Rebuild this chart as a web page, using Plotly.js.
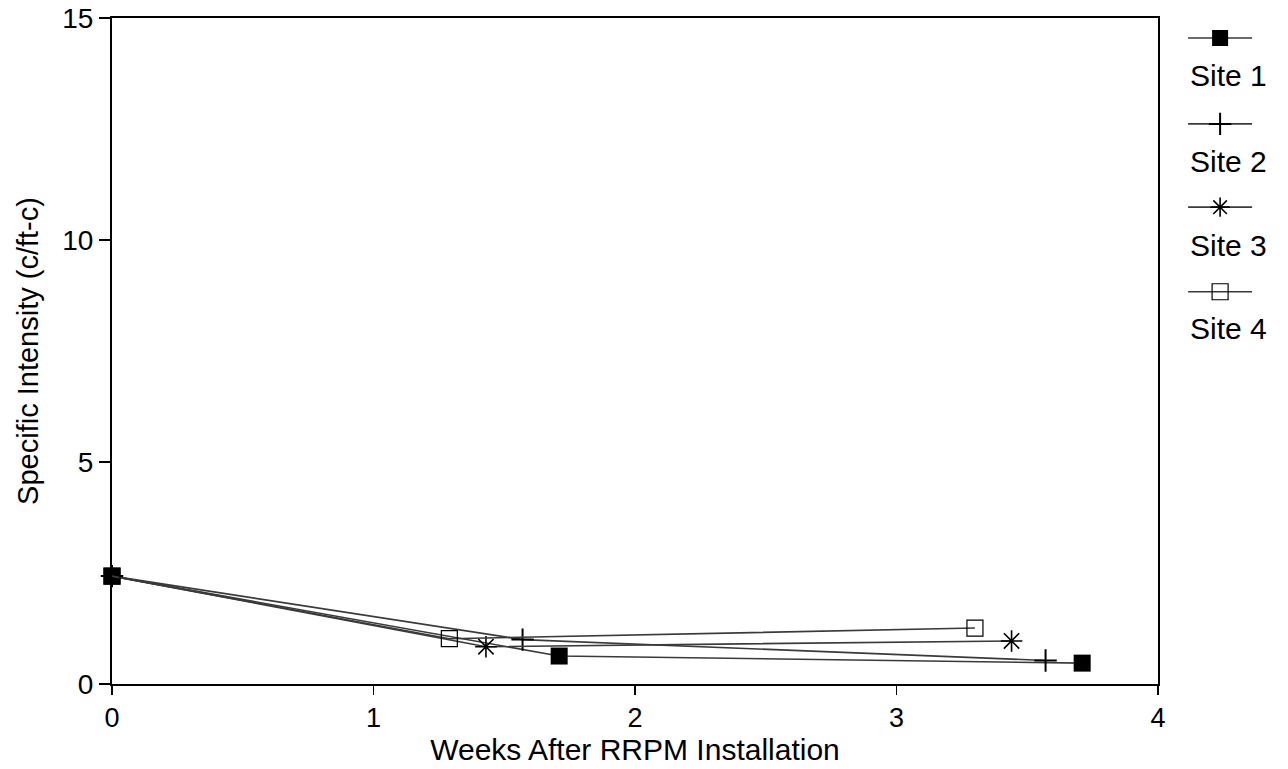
<!DOCTYPE html>
<html>
<head>
<meta charset="utf-8">
<script src="https://cdn.plot.ly/plotly-3.0.1.min.js"></script>
<style>html,body{margin:0;padding:0;background:#fff;}#chart{width:1288px;height:769px;}</style>
</head>
<body>
<div id="chart"></div>
<script>
// Data
const siteNames = ["Site 1", "Site 2", "Site 3", "Site 4"];
const site1Weeks = [0, 1.71, 3.71];
const site1Intensity = [2.43, 0.63, 0.47];
const site2Weeks = [0, 1.57, 3.57];
const site2Intensity = [2.43, 1.0, 0.53];
const site3Weeks = [0, 1.43, 3.44];
const site3Intensity = [2.43, 0.84, 0.97];
const site4Weeks = [0, 1.29, 3.30];
const site4Intensity = [2.43, 1.02, 1.26];
const xTickVals = [0, 1, 2, 3, 4];
const yTickVals = [0, 5, 10, 15];

const FONT = "Liberation Sans, Arial, Helvetica, sans-serif";
const lineColor = "#3a3a3a";

const markers = [
  {symbol: "square", size: 17, color: "#000", line: {width: 0}},
  {symbol: "cross-thin-open", size: 16, color: "#000", line: {width: 2, color: "#000"}},
  {symbol: "asterisk-open", size: 18, color: "#000", line: {width: 1.6, color: "#000"}},
  {symbol: "square-open", size: 16, color: "#000", line: {width: 1.2, color: "#000"}}
];
const xs = [site1Weeks, site2Weeks, site3Weeks, site4Weeks];
const ys = [site1Intensity, site2Intensity, site3Intensity, site4Intensity];
const legendIds = ["legend", "legend2", "legend3", "legend4"];

const traces = siteNames.map((n, i) => ({
  type: "scatter",
  mode: "lines+markers",
  x: xs[i],
  y: ys[i],
  name: " ",
  legend: legendIds[i],
  cliponaxis: false,
  line: {color: lineColor, width: 1.6},
  marker: markers[i],
  hovertemplate: n + ": %{x}, %{y}<extra></extra>"
}));

// legend symbol / label positions (paper coords)
const symY = [0.970, 0.841, 0.716, 0.589];
const txtY = [0.914, 0.785, 0.659, 0.534];

const layout = {
  width: 1288, height: 769,
  margin: {l: 112, r: 130, t: 18, b: 85},
  paper_bgcolor: "#fff", plot_bgcolor: "#fff",
  font: {family: FONT, color: "#000", size: 24},
  showlegend: true,
  xaxis: {
    range: [0, 4], tickvals: xTickVals, ticks: "outside", ticklen: 9, tickwidth: 1.5, tickcolor: "#000",
    showgrid: false, zeroline: false, showline: true, linecolor: "#000", linewidth: 2, mirror: true,
    tickfont: {size: 27, family: FONT, color: "#000"},
    title: {text: "Weeks After RRPM Installation", font: {size: 30, family: FONT, color: "#000"}, standoff: 6}
  },
  yaxis: {
    range: [0, 15], tickvals: yTickVals, ticks: "outside", ticklen: 11, tickwidth: 1.5, tickcolor: "#000",
    showgrid: false, zeroline: false, showline: true, linecolor: "#000", linewidth: 2, mirror: true,
    tickfont: {size: 28, family: FONT, color: "#000"},
    title: {text: "Specific Intensity (c/ft-c)", font: {size: 29, family: FONT, color: "#000"}, standoff: 15}
  },
  annotations: siteNames.map((n, i) => ({
    xref: "paper", yref: "paper", x: 1.029, y: txtY[i], xanchor: "left", yanchor: "middle",
    text: n, showarrow: false, font: {size: 30, family: FONT, color: "#000"}
  }))
};
legendIds.forEach((id, i) => {
  layout[id] = {
    x: 1.024, y: symY[i], xanchor: "left", yanchor: "middle",
    bgcolor: "rgba(0,0,0,0)", borderwidth: 0, itemwidth: 64,
    font: {size: 10, family: FONT}, itemclick: false, itemdoubleclick: false
  };
});

Plotly.newPlot("chart", traces, layout, {displayModeBar: false, staticPlot: true});
</script>
</body>
</html>
